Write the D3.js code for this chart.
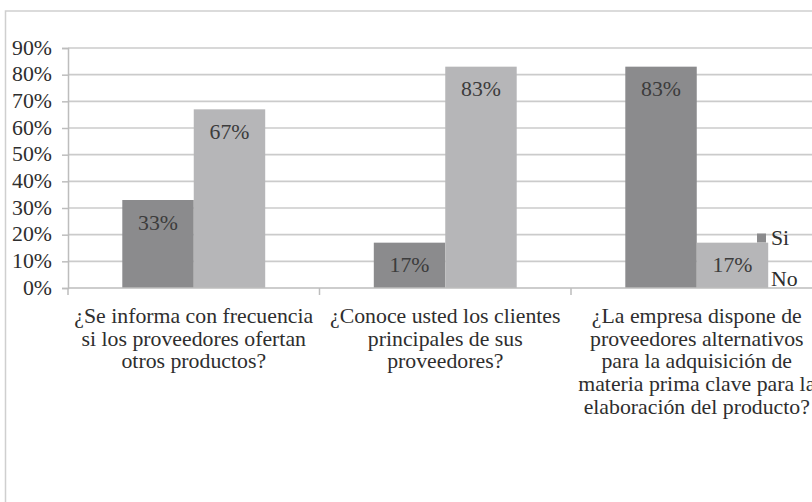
<!DOCTYPE html>
<html><head><meta charset="utf-8">
<script src="https://cdn.jsdelivr.net/npm/d3@7"></script>
<style>body{margin:0;background:#fff}svg{display:block}
svg text{font-family:"Liberation Serif","Times New Roman",Tinos,"DejaVu Serif",serif;}</style>
</head><body>
<svg id="chart" width="812" height="502"></svg>
<script>
const categories = [
  ["¿Se informa con frecuencia", "si los proveedores ofertan", "otros productos?"],
  ["¿Conoce usted los clientes", "principales de sus", "proveedores?"],
  ["¿La empresa dispone de", "proveedores alternativos", "para la adquisición de", "materia prima clave para la", "elaboración del producto?"]
];
const seriesNames = ["Si", "No"];
const siValues = [0.33, 0.17, 0.83];
const noValues = [0.67, 0.83, 0.17];
const valueLabels = [["33%", "67%"], ["17%", "83%"], ["83%", "17%"]];
const yTicks = [0, 0.1, 0.2, 0.3, 0.4, 0.5, 0.6, 0.7, 0.8, 0.9];

(function () {
const colors = {Si: "#8b8b8d", No: "#b6b6b8"};
const SX = 1.09;

const svg = d3.select("#chart");
svg.append("rect").attr("x", 0).attr("y", 0).attr("width", 812).attr("height", 502).attr("fill", "#fff");
svg.append("rect").attr("x", 5.5).attr("y", 11).attr("width", 900).attr("height", 600)
  .attr("fill", "none").attr("stroke", "#cfcfcf").attr("stroke-width", 1.5);

const mLeft = 68, mTop = 48, mBottom = 288;
const x = d3.scaleBand().domain(d3.range(categories.length)).range([mLeft, mLeft + 3 * 251.5]).padding(0);
const xi = d3.scaleBand().domain(seriesNames).range([0, x.bandwidth()]).paddingInner(0).paddingOuter(0.76);
const y = d3.scaleLinear().domain([0, 0.9]).range([mBottom, mTop]);

function txt(g, xx, yy, s, opts = {}) {
  return g.append("text")
    .attr("transform", `translate(${xx},${yy}) scale(${SX},1)`)
    .attr("font-size", opts.size || 20)
    .attr("fill", opts.fill || "#2e2e2e")
    .attr("text-anchor", opts.anchor || "middle")
    .attr("dominant-baseline", opts.baseline || "auto")
    .text(s);
}

svg.append("g").selectAll("line").data(yTicks.slice(1)).join("line")
  .attr("x1", mLeft).attr("x2", 830)
  .attr("y1", d => y(d)).attr("y2", d => y(d))
  .attr("stroke", "#cbcbcb").attr("stroke-width", 1.6);

const yAxis = svg.append("g").attr("transform", `translate(${mLeft},0)`)
  .call(d3.axisLeft(y).tickValues(yTicks).tickSize(6).tickFormat(""));
yAxis.select(".domain").attr("stroke", "#bdbdbd").attr("stroke-width", 1.5);
yAxis.selectAll(".tick line").attr("stroke", "#bdbdbd").attr("stroke-width", 1.5);
const tl = svg.append("g");
yTicks.forEach(t => {
  txt(tl, 52, y(t), d3.format(".0%")(t), {anchor: "end", baseline: "central"});
});

const data = categories.map((c, i) => ({i, vals: [siValues[i], noValues[i]]}));
const groups = svg.append("g").selectAll("g").data(data).join("g")
  .attr("transform", d => `translate(${x(d.i)},0)`);
groups.selectAll("rect").data(d => seriesNames.map((s, k) => ({s, v: d.vals[k]})))
  .join("rect")
  .attr("x", d => xi(d.s)).attr("width", xi.bandwidth())
  .attr("y", d => y(d.v)).attr("height", d => y(0) - y(d.v))
  .attr("fill", d => colors[d.s]);

const xAxis = svg.append("g").attr("transform", `translate(0,${mBottom})`);
xAxis.append("line").attr("x1", mLeft).attr("x2", 830).attr("y1", 0).attr("y2", 0)
  .attr("stroke", "#bdbdbd").attr("stroke-width", 1.5);
xAxis.selectAll("line.tk").data(d3.range(categories.length + 1)).join("line").attr("class", "tk")
  .attr("x1", d => mLeft + d * x.bandwidth()).attr("x2", d => mLeft + d * x.bandwidth())
  .attr("y1", 0).attr("y2", 7).attr("stroke", "#bdbdbd").attr("stroke-width", 1.5);

const vl = svg.append("g");
data.forEach(d => {
  seriesNames.forEach((s, k) => {
    txt(vl, x(d.i) + xi(s) + xi.bandwidth() / 2, y(d.vals[k]) + 23, valueLabels[d.i][k],
      {baseline: "central", fill: "#3c3c3c"});
  });
});

const cl = svg.append("g");
categories.forEach((lines, i) => {
  lines.forEach((ln, j) => {
    txt(cl, x(i) + x.bandwidth() / 2, 323 + j * 22.7, ln);
  });
});

const lg = svg.append("g");
seriesNames.forEach((s, k) => {
  const ly = 238 + k * 41;
  lg.append("rect").attr("x", 757).attr("y", ly - 4.5).attr("width", 9).attr("height", 9).attr("fill", colors[s]);
  txt(lg, 771, ly, s, {anchor: "start", baseline: "central"});
});
})();
</script>
</body></html>
